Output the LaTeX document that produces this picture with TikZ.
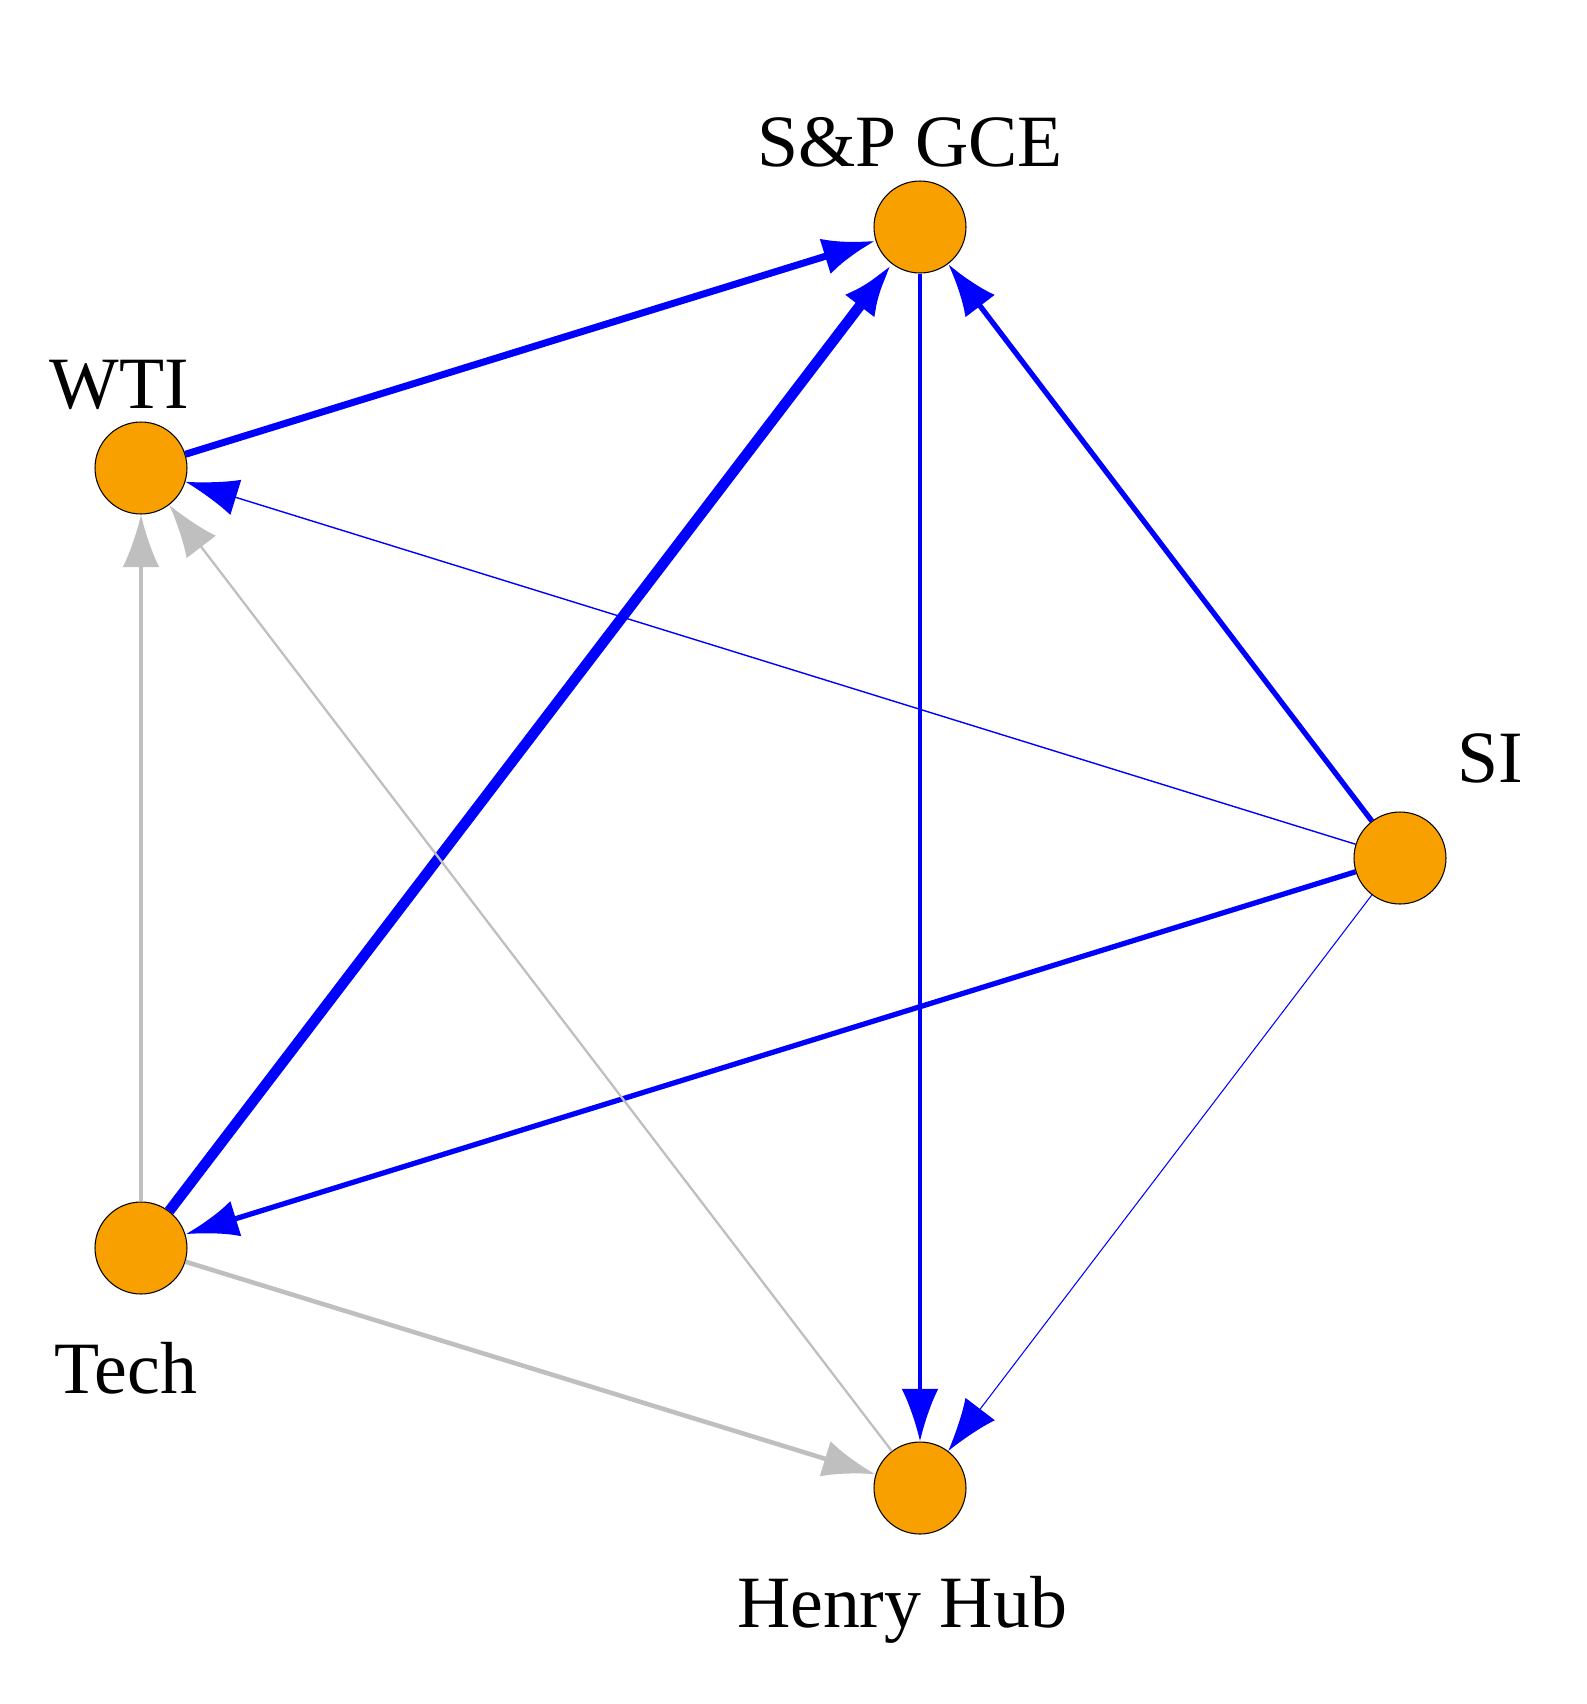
\documentclass[tikz,border=0pt]{standalone}
\usepackage{fontspec}
\setmainfont{Liberation Serif}
\usetikzlibrary{arrows.meta}
\definecolor{nodeor}{RGB}{247,160,0}
\begin{document}
\begin{tikzpicture}[x=0.02cm,y=-0.02cm,
  v/.style={circle,draw=black,fill=nodeor,minimum size=1.84cm,inner sep=0pt,line width=0.6pt},
  lab/.style={font=\fontsize{42}{46}\selectfont},
  e/.style={-{Latex[length=30pt,width=21pt]}},
  b/.style={e,blue},
  g/.style={e,black!25}]
\useasboundingbox (0,0) rectangle (1586,1704);
\node[v] (sp) at (920,227) {};
\node[v] (wti) at (141,468) {};
\node[v] (si) at (1400,858) {};
\node[v] (tech) at (141,1248) {};
\node[v] (hh) at (920,1488) {};
\node[lab] (lsp) at (910,142) {S\&P GCE};
\node[lab] (lwti) at (119,385) {WTI};
\node[lab] (lsi) at (1490,758) {SI};
\node[lab] (ltech) at (126,1368) {Tech};
\node[lab] (lhh) at (902,1610) {Henry Hub};
\draw[b,line width=4pt] (wti) -- (sp);
\draw[b,line width=6pt] (tech) -- (sp);
\draw[b,line width=2pt] (sp) -- (hh);
\draw[b,line width=3pt] (si) -- (sp);
\draw[b,line width=0.8pt] (si) -- (wti);
\draw[b,line width=3pt] (si) -- (tech);
\draw[b,line width=0.6pt] (si) -- (hh);
\draw[g,line width=1.8pt] (tech) -- (wti);
\draw[g,line width=1.3pt] (hh) -- (wti);
\draw[g,line width=2.6pt] (tech) -- (hh);
\end{tikzpicture}
\end{document}
